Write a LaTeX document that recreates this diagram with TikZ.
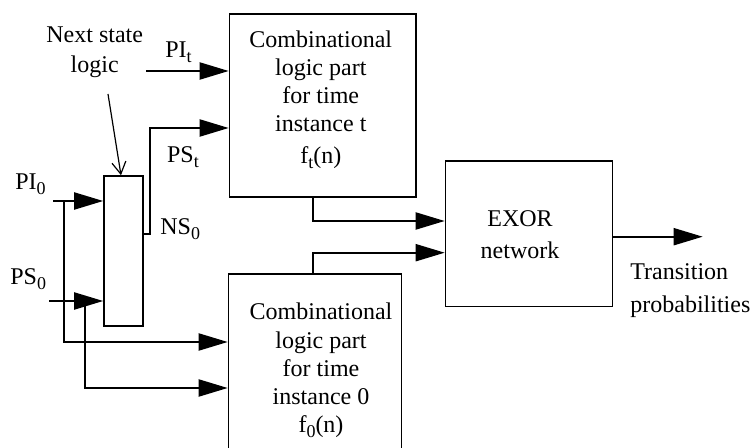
\documentclass[tikz,border=0pt]{standalone}
\usepackage{fontspec}
\setmainfont{Liberation Serif}
\usetikzlibrary{arrows.meta}
\newcommand\subs[1]{\raisebox{-2.5pt}{\fontsize{9}{9}\selectfont #1}}
\begin{document}
\begin{tikzpicture}[x=0.5pt,y=-0.5pt,
  box/.style={draw, line width=0.8pt, inner sep=0pt, rectangle},
  conn/.style={line width=1pt},
  arr/.style={conn, -{Triangle[length=14.5pt,width=8.5pt]}},
  lbl/.style={inner sep=0pt, font=\fontsize{12}{14.1}\selectfont},
]
\clip (0,0) rectangle (750,448);
% boxes
\node[box, minimum width=93.25pt, minimum height=91.5pt] (Ct) at (322.75,105.5) {};
\node[box, minimum width=86.5pt, minimum height=93pt] (C0) at (315,367) {};
\node[box, minimum width=83.5pt, minimum height=72.75pt] (EX) at (529,233.75) {};
\node[box, minimum width=19.5pt, minimum height=75pt] (NS) at (123.5,251) {};
% texts
\node[lbl, align=center, anchor=north] (Cttext) at (320.8,30.3) {Combinational\\logic part\\for time\\instance t\\[1.9pt]f\subs{t}(n)};
\node[lbl, align=center, anchor=north] (C0text) at (321,302.9) {Combinational\\logic part\\for time\\instance 0\\f\subs{0}(n)};
\node[lbl, align=center, anchor=north, font=\fontsize{12}{16}\selectfont] (EXtext) at (520,210) {EXOR\\network};
\node[lbl, align=left, anchor=north west, font=\fontsize{12}{16.5}\selectfont] (tp) at (630,262.9) {Transition\\probabilities};
\node[lbl, align=center, anchor=north, font=\fontsize{12}{15.2}\selectfont] (nsl) at (94.7,26.1) {Next state\\logic};
\node[lbl, anchor=base west] (PIt) at (165,58) {PI\subs{t}};
\node[lbl, anchor=base west] (PSt) at (166.7,163) {PS\subs{t}};
\node[lbl, anchor=base west] (NSo) at (160,235) {NS\subs{0}};
\node[lbl, anchor=base west] (PIo) at (15,190) {PI\subs{0}};
\node[lbl, anchor=base west] (PSo) at (10,285) {PS\subs{0}};
% connectors
\coordinate (pit) at (146,71);
\draw[arr] (pit) -- (pit -| Ct.west);
\coordinate (nsb) at (150,128);
\draw[arr] (NS.east |- 0,234) -| (nsb) -- (nsb -| Ct.west);
\coordinate (pi0) at (53,201);
\draw[arr] (pi0) -- (pi0 -| NS.west);
\coordinate (ps0) at (49,301);
\draw[arr] (ps0) -- (ps0 -| NS.west);
\draw[arr] (64,201) |- (C0.west |- 0,342);
\draw[arr] (85,301) |- (C0.west |- 0,388);
\draw[arr] (Ct.south -| 313.3,0) |- (EX.west |- 0,221);
\draw[arr] (C0.north -| 313.3,0) |- (EX.west |- 0,252.7);
\coordinate (out) at (702.7,236.7);
\draw[arr] (EX.east |- out) -- (out);
\draw[line width=0.6pt, -{Straight Barb[length=6pt,width=7pt]}] (108,94) -- (NS.north -| 121,0);
\end{tikzpicture}
\end{document}
